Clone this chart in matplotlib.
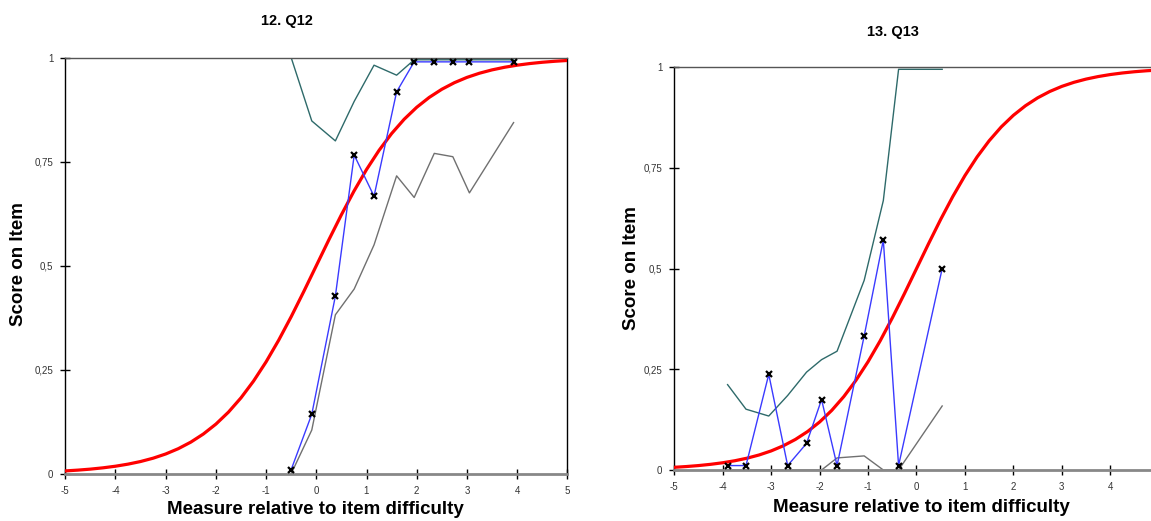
import matplotlib
matplotlib.use('Agg')
import matplotlib.pyplot as plt

plt.rcParams['font.family'] = ['Liberation Sans', 'DejaVu Sans']

# model curve (expected score), read at quarter-unit steps
measure = [-5, -4.75, -4.5, -4.25, -4, -3.75, -3.5, -3.25, -3, -2.75, -2.5,
           -2.25, -2, -1.75, -1.5, -1.25, -1, -0.75, -0.5, -0.25, 0,
           0.25, 0.5, 0.75, 1, 1.25, 1.5, 1.75, 2, 2.25, 2.5,
           2.75, 3, 3.25, 3.5, 3.75, 4, 4.25, 4.5, 4.75, 5]
expected = [0.0067, 0.0086, 0.0110, 0.0141, 0.0180, 0.0230, 0.0293, 0.0373, 0.0474, 0.0601, 0.0759,
            0.0954, 0.1192, 0.1480, 0.1824, 0.2227, 0.2689, 0.3208, 0.3775, 0.4378, 0.5,
            0.5622, 0.6225, 0.6792, 0.7311, 0.7773, 0.8176, 0.8520, 0.8808, 0.9046, 0.9241,
            0.9399, 0.9526, 0.9627, 0.9707, 0.9770, 0.9820, 0.9859, 0.9890, 0.9914, 0.9933]

# item 12
x12 = [-0.50, -0.09, 0.38, 0.755, 1.15, 1.60, 1.95, 2.35, 2.72, 3.05, 3.93]
obs12 = [0.010, 0.143, 0.427, 0.766, 0.667, 0.918, 0.99, 0.99, 0.99, 0.99, 0.99]
upper12 = [1.0, 0.848, 0.80, 0.895, 0.982, 0.958, 0.995, 0.995, 0.995, 0.995, 0.995]
lower12 = [0.0, 0.105, 0.382, 0.444, 0.55, 0.716, 0.664, 0.77, 0.762, 0.675, 0.844]

# item 13
x13 = [-3.90, -3.52, -3.05, -2.66, -2.27, -1.96, -1.64, -1.08, -0.685, -0.37, 0.53]
obs13 = [0.011, 0.011, 0.2375, 0.011, 0.066, 0.175, 0.011, 0.333, 0.571, 0.011, 0.5]
upper13 = [0.212, 0.151, 0.134, 0.185, 0.243, 0.274, 0.295, 0.471, 0.669, 0.995, 0.995]
lower13 = [0.0, 0.0, 0.0, 0.0, 0.0, 0.0, 0.03, 0.035, 0.0, 0.0, 0.159]

xticks12 = [-5, -4, -3, -2, -1, 0, 1, 2, 3, 4, 5]
xticks13 = [-5, -4, -3, -2, -1, 0, 1, 2, 3, 4]
yticks = [0, 0.25, 0.5, 0.75, 1]
ytick_labels = ['0', '0,25', '0,5', '0,75', '1']


def draw_item(ax, x, obs, upper, lower, xticks):
    ax.plot(x, upper, color='#2e6a6a', lw=1.0, zorder=2)
    ax.plot(x, lower, color='#707070', lw=1.0, zorder=2)
    ax.plot(measure, expected, color='#ff0000', lw=2.3, zorder=3,
            solid_joinstyle='round')
    ax.plot(x, obs, color='#3a3aff', lw=1.0, marker='x', markersize=4.5,
            markeredgewidth=1.6, markeredgecolor='black', zorder=4)
    ax.set_xlim(-5, 5)
    ax.set_ylim(0, 1)
    ax.set_xticks(xticks)
    ax.set_xticklabels([str(t) for t in xticks])
    ax.set_yticks(yticks)
    ax.set_yticklabels(ytick_labels)
    ax.tick_params(direction='inout', length=7, width=1, color='black',
                   labelsize=7, labelcolor='#333333', pad=5)
    ax.spines['left'].set_color('black')
    ax.spines['right'].set_color('black')
    ax.spines['top'].set_color('#555555')
    ax.spines['bottom'].set_color('#888888')
    ax.spines['bottom'].set_linewidth(2)
    for s in ['left', 'right', 'top']:
        ax.spines[s].set_linewidth(1)


W, H = 1151, 521
fig = plt.figure(figsize=(W / 100, H / 100), dpi=100)

ax1 = fig.add_axes([65.3 / W, 1 - 473.7 / H, 502 / W, 416 / H])
draw_item(ax1, x12, obs12, upper12, lower12, xticks12)

ax2 = fig.add_axes([674.3 / W, 1 - 470 / H, 484.4 / W, 402.7 / H])
draw_item(ax2, x13, obs13, upper13, lower13, xticks13)

fig.text(287 / W, 1 - 21 / H, '12. Q12', ha='center', va='center',
         fontsize=10.5, fontweight='bold')
fig.text(893 / W, 1 - 32.3 / H, '13. Q13', ha='center', va='center',
         fontsize=10.5, fontweight='bold')

fig.text(19 / W, 1 - 264 / H, 'Score on Item', rotation=90, ha='center',
         va='center', fontsize=13.5, fontweight='bold')
fig.text(631 / W, 1 - 268 / H, 'Score on Item', rotation=90, ha='center',
         va='center', fontsize=13.5, fontweight='bold')

fig.text(315.5 / W, 1 - 510 / H, 'Measure relative to item difficulty',
         ha='center', va='center', fontsize=13.5, fontweight='bold')
fig.text(921 / W, 1 - 507 / H, 'Measure relative to item difficulty',
         ha='center', va='center', fontsize=13.5, fontweight='bold')

fig.savefig('out.png', dpi=100)
